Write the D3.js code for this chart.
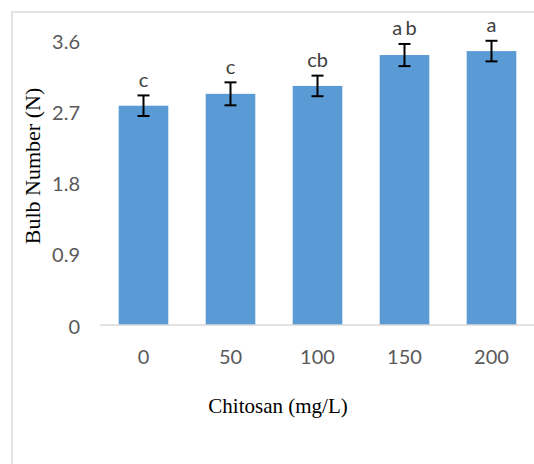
<!DOCTYPE html>
<html>
<head>
<meta charset="utf-8">
<script src="https://cdn.jsdelivr.net/npm/d3@7"></script>
<style>
  body { margin: 0; background: #fff; }
  svg { display: block; }
</style>
</head>
<body>
<svg id="chart" width="534" height="464"></svg>
<script>
// data
var doses = ["0", "50", "100", "150", "200"];
var bulbMean = [2.77, 2.92, 3.02, 3.41, 3.46];
var bulbErr = [0.13, 0.145, 0.13, 0.14, 0.13];
var letters = ["c", "c", "cb", "a b", "a"];
var yTicks = [0, 0.9, 1.8, 2.7, 3.6];

var svg = d3.select("#chart");

// outer chart frame (right / bottom edges fall outside the picture)
svg.append("rect")
  .attr("x", 12).attr("y", 12)
  .attr("width", 600).attr("height", 600)
  .attr("fill", "none")
  .attr("stroke", "#d9d9d9")
  .attr("stroke-width", 1.5);

var x = d3.scaleBand()
  .domain(doses)
  .range([100, 535])
  .paddingInner(0.43)
  .paddingOuter(0.215);

var y = d3.scaleLinear()
  .domain([0, 3.6])
  .range([325, 40]);

var tickFont = "Lato, 'Open Sans', sans-serif";

// y axis (labels only)
var yaxis = d3.axisLeft(y).tickValues(yTicks).tickSize(0).tickPadding(20)
  .tickFormat(function(d) { return String(d); });
var gy = svg.append("g").attr("transform", "translate(100,0)").call(yaxis);
gy.select(".domain").remove();
gy.selectAll("text")
  .attr("dy", "0.4em")
  .style("font-family", tickFont)
  .style("font-size", "20px")
  .style("fill", "#595959");

// bars
svg.append("g").selectAll("rect")
  .data(bulbMean)
  .enter()
  .append("rect")
  .attr("x", function(d, i) { return x(doses[i]); })
  .attr("y", function(d) { return y(d); })
  .attr("width", x.bandwidth())
  .attr("height", function(d) { return y(0) - y(d); })
  .attr("fill", "#5b9bd5");

// baseline
svg.append("line")
  .attr("x1", 100).attr("x2", 534)
  .attr("y1", y(0)).attr("y2", y(0))
  .attr("stroke", "#d9d9d9")
  .attr("stroke-width", 1.5);

// x axis (labels only)
var xaxis = d3.axisBottom(x).tickSize(0).tickPadding(25);
var gx = svg.append("g").attr("transform", "translate(0," + y(0) + ")").call(xaxis);
gx.select(".domain").remove();
gx.selectAll("text")
  .style("font-family", tickFont)
  .style("font-size", "20px")
  .style("fill", "#595959");

// error bars
var eb = svg.append("g").attr("stroke", "#000").attr("stroke-width", 2);
bulbMean.forEach(function(m, i) {
  var cx = x(doses[i]) + x.bandwidth() / 2;
  var top = y(m + bulbErr[i]), bot = y(m - bulbErr[i]);
  eb.append("line").attr("x1", cx).attr("x2", cx).attr("y1", top).attr("y2", bot);
  eb.append("line").attr("x1", cx - 6).attr("x2", cx + 6).attr("y1", top).attr("y2", top);
  eb.append("line").attr("x1", cx - 6).attr("x2", cx + 6).attr("y1", bot).attr("y2", bot);
});

// significance letters
svg.append("g").selectAll("text")
  .data(letters)
  .enter()
  .append("text")
  .attr("x", function(d, i) { return x(doses[i]) + x.bandwidth() / 2; })
  .attr("y", function(d, i) { return y(bulbMean[i] + bulbErr[i]) - 8.5; })
  .attr("text-anchor", "middle")
  .style("font-family", tickFont)
  .style("font-size", "20px")
  .style("word-spacing", "-2px")
  .style("fill", "#404040")
  .text(function(d) { return d; });

// axis titles
svg.append("text")
  .attr("x", 278).attr("y", 413)
  .attr("text-anchor", "middle")
  .style("font-family", "'Liberation Serif', 'Times New Roman', serif")
  .style("font-size", "21px")
  .text("Chitosan (mg/L)");

svg.append("text")
  .attr("transform", "translate(40,166)rotate(-90)")
  .attr("text-anchor", "middle")
  .style("font-family", "'Liberation Serif', 'Times New Roman', serif")
  .style("font-size", "22px")
  .text("Bulb Number (N)");
</script>
</body>
</html>
